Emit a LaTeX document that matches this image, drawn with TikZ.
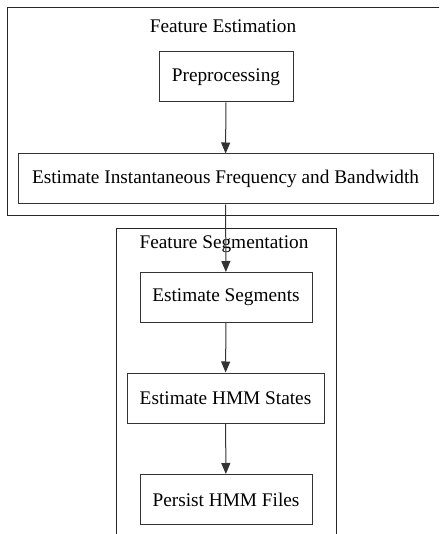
\documentclass[tikz,border=0pt]{standalone}
\usepackage{fontspec}
\setmainfont{Liberation Serif}
\usetikzlibrary{arrows.meta, positioning}

\begin{document}
\begin{tikzpicture}[
  x=1pt, y=-1pt,
  >={Triangle[length=11pt, width=9pt]},
  stepbox/.style={
    draw=black!80, line width=1pt, minimum height=50pt,
    inner sep=0pt, font=\fontsize{19.3}{21}\selectfont
  },
  cluster/.style={draw=black!85, line width=1pt},
  clustlab/.style={font=\fontsize{19.3}{21}\selectfont},
  flow/.style={->, draw=black!80, line width=1pt},
]
\useasboundingbox (0,0) rectangle (439,534);
\clip (0,0) rectangle (439,534);

%%% Clusters
\draw[cluster] (7,8) rectangle (460,216);
\draw[cluster] (116,228) rectangle (336,560);
\node[clustlab] (festlab) at (223,26) {Feature Estimation};
\node[clustlab] (fseglab) at (224,244) {Feature Segmentation};

%%% Steps
\node[stepbox, minimum width=134pt] (prep) at (226,77)    {Preprocessing};
\node[stepbox, minimum width=415pt] (inst) at (225.5,179) {Estimate Instantaneous Frequency and Bandwidth};
\node[stepbox, minimum width=172pt] (segs) at (226,297.5) {Estimate Segments};
\node[stepbox, minimum width=197pt] (hmms) at (225.5,398) {Estimate HMM States};
\node[stepbox, minimum width=172pt] (pers) at (226,499.5) {Persist HMM Files};

%%% Edges
\draw[flow] (prep) -- (inst);
\draw[flow] (inst) -- (segs);
\draw[flow] (segs) -- (hmms);
\draw[flow] (hmms) -- (pers);

\end{tikzpicture}
\end{document}
